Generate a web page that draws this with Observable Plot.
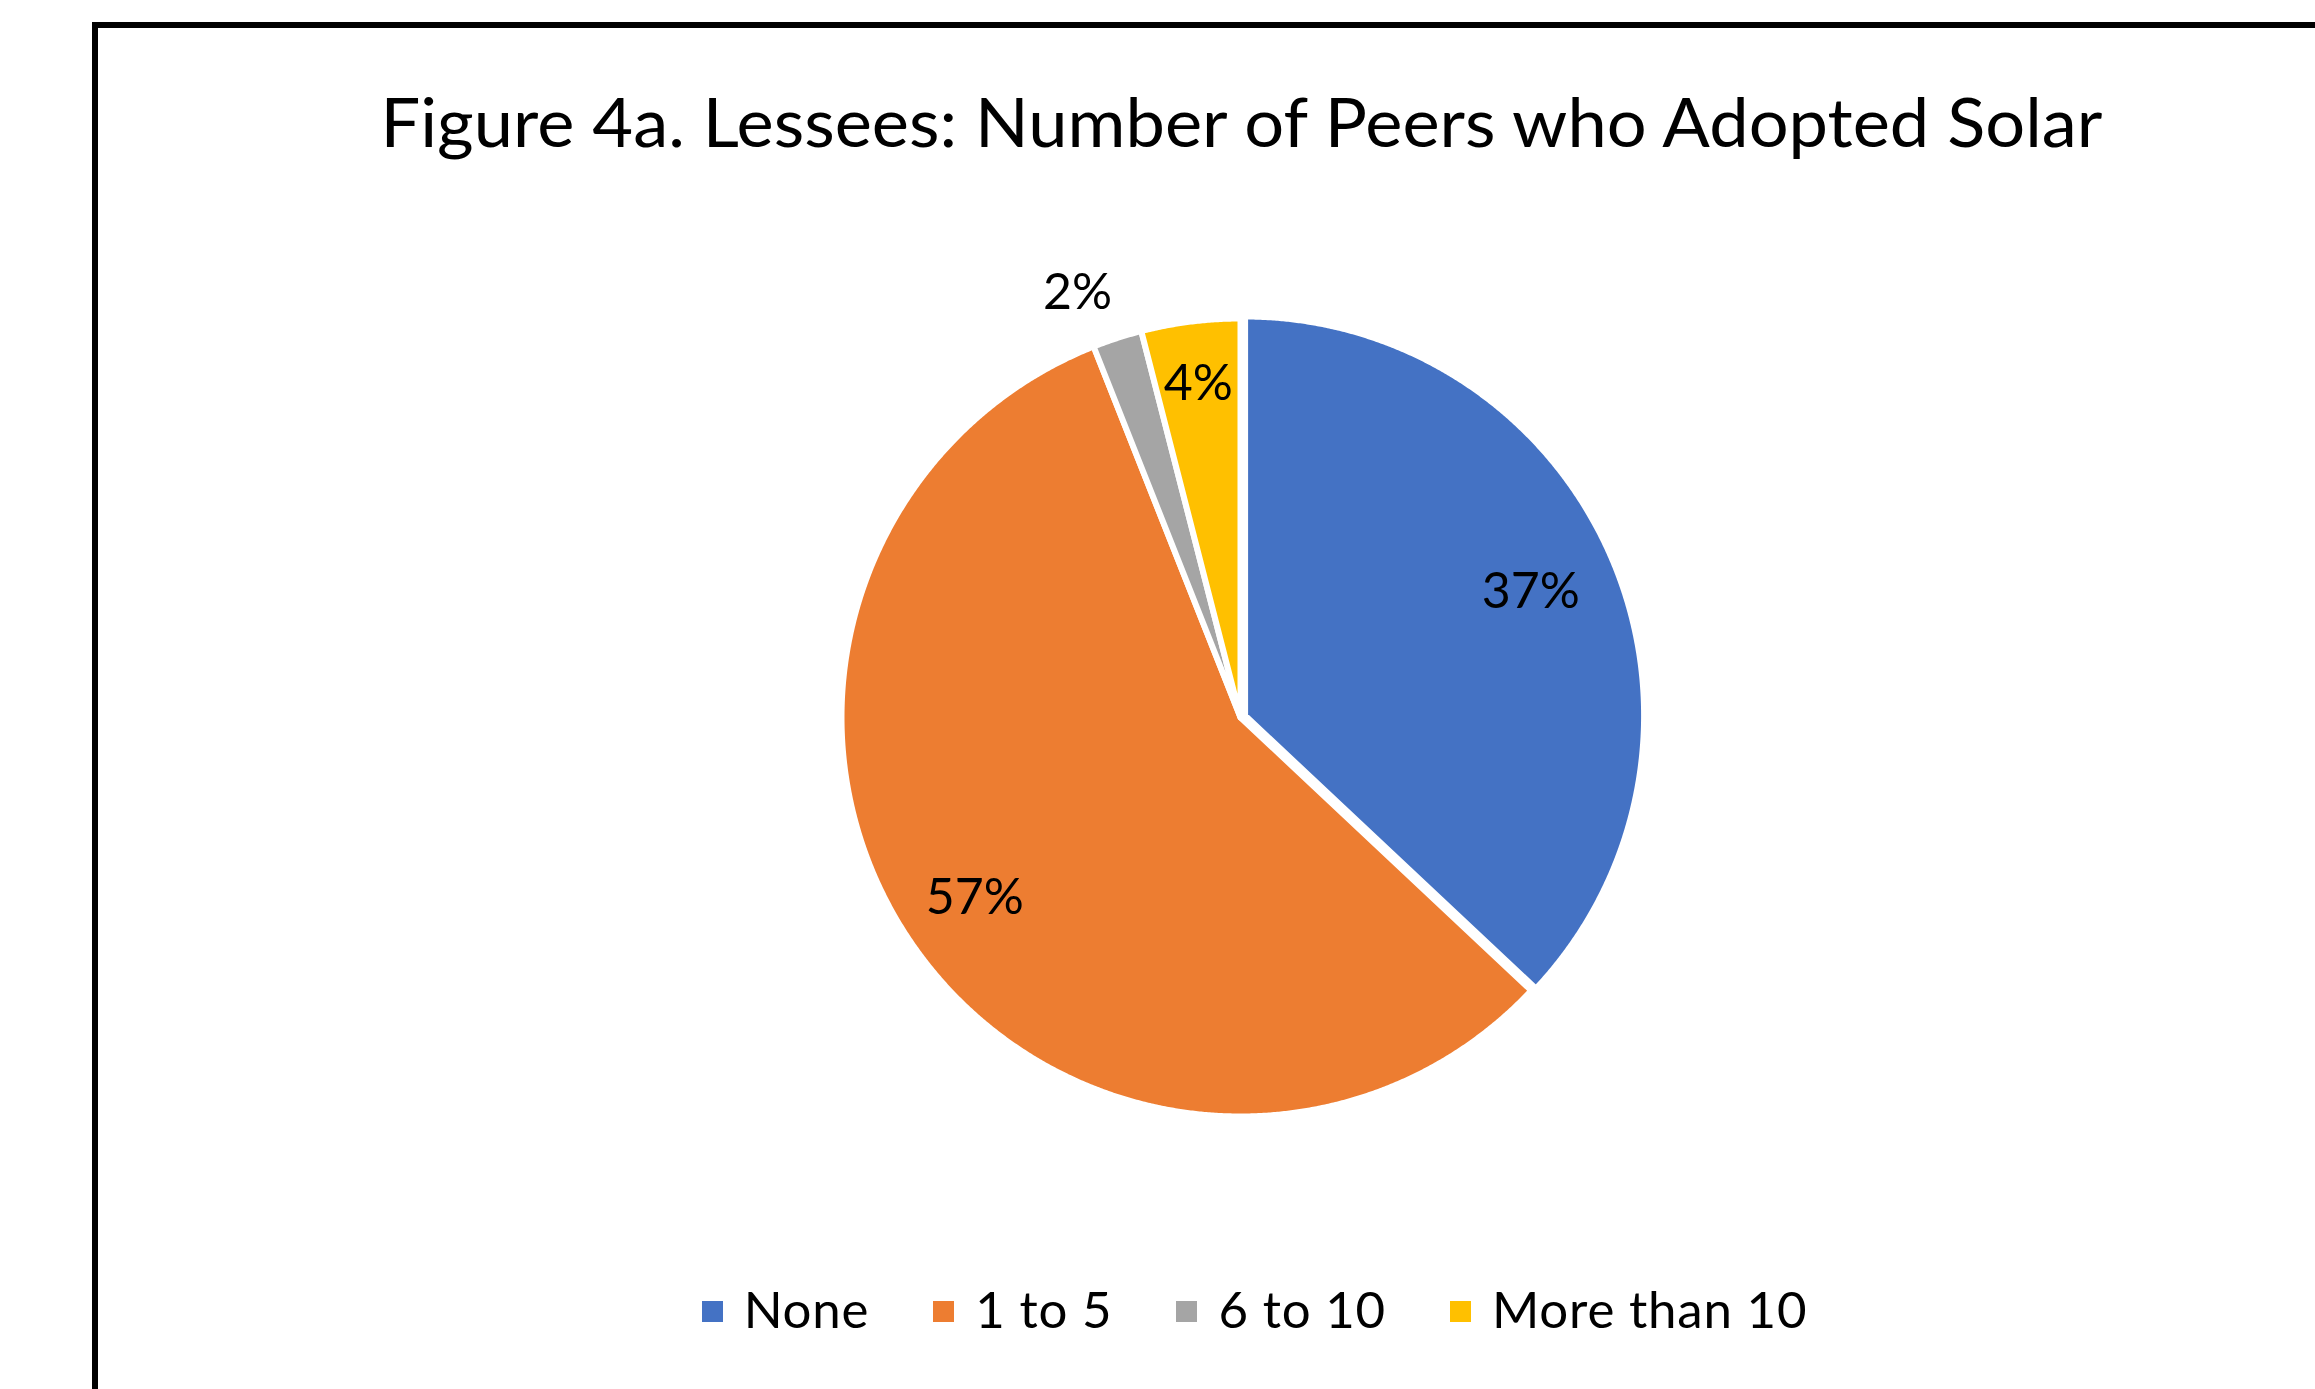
<!DOCTYPE html>
<html><head><meta charset="utf-8">
<script src="https://cdn.jsdelivr.net/npm/d3@7"></script>
<script src="https://cdn.jsdelivr.net/npm/@observablehq/plot@0.6"></script>
<style>
html,body{margin:0;padding:0;background:#fff;}
body{width:2315px;height:1389px;overflow:hidden;position:relative;font-family:Lato,"Open Sans",sans-serif;}
#box{position:absolute;left:92px;top:22px;width:2400px;height:1500px;border:6px solid #000;box-sizing:border-box;}
#chart{position:absolute;left:0;top:0;}
#legend{position:absolute;left:254.5px;width:2000px;top:1283px;display:flex;justify-content:center;font-size:51px;line-height:51px;color:#000;white-space:nowrap;letter-spacing:0.8px;}
.item{display:flex;align-items:flex-start;margin:0 32px;}
.sw{width:21px;height:21px;margin-top:17.7px;margin-right:21px;flex:none;}
</style></head><body>
<div id="box"></div><div id="chart"></div><div id="legend"></div>
<script>
const title = "Figure 4a. Lessees: Number of Peers who Adopted Solar";
const categories = ["None", "1 to 5", "6 to 10", "More than 10"];
const shares = [37, 57, 2, 4];
const labels = ["37%", "57%", "2%", "4%"];
const colors = ["#4472C4", "#ED7D31", "#A5A5A5", "#FFC000"];

// layout (pixels / unit-radius settings)
const W = 2315, H = 1389, cx = 1240, cy = 717, R = 399;
const explode = {"None": 5 / 399};
const labelRadius = {"None": 0.78, "1 to 5": 0.805, "6 to 10": 1.14, "More than 10": 0.843};
const labelNudge = {"6 to 10": -3 * Math.PI / 180};

const rows = categories.map((c, i) => ({cat: c, share: shares[i], label: labels[i]}));
const arcs = d3.pie().sort(null).value(d => d.share)(rows);
const pts = [], labelRows = [];
for (const a of arcs) {
  const cat = a.data.cat, mid = (a.startAngle + a.endAngle) / 2, e = explode[cat] || 0;
  const ox = e * Math.sin(mid), oy = -e * Math.cos(mid);
  pts.push({cat, x: ox, y: oy});
  const n = Math.max(2, Math.ceil((a.endAngle - a.startAngle) / (Math.PI / 720)));
  for (let k = 0; k <= n; k++) {
    const t = a.startAngle + (a.endAngle - a.startAngle) * k / n;
    pts.push({cat, x: ox + Math.sin(t), y: oy - Math.cos(t)});
  }
  const lr = labelRadius[cat], la = mid + (labelNudge[cat] || 0);
  labelRows.push({cat, label: a.data.label, x: ox + lr * Math.sin(la), y: oy - lr * Math.cos(la)});
}

const svg = Plot.plot({
  width: W, height: H, margin: 0,
  x: {domain: [-1, 1], range: [cx - R, cx + R], axis: null},
  y: {domain: [-1, 1], range: [cy - R, cy + R], axis: null},
  color: {domain: categories, range: colors},
  style: {background: "transparent", fontFamily: "Lato, 'Open Sans', sans-serif", overflow: "visible"},
  marks: [
    Plot.line(pts, {x: "x", y: "y", z: "cat", fill: "cat", stroke: "white", strokeWidth: 6, curve: "linear-closed"}),
    Plot.text(labelRows, {x: "x", y: "y", text: "label", fill: "black", fontSize: 50}),
    Plot.text([title], {frameAnchor: "top-left", dx: 1241, dy: 146.7, textAnchor: "middle", lineAnchor: "bottom", fontSize: 68, fill: "black"})
  ]
});
document.getElementById("chart").appendChild(svg);
d3.select(svg).selectAll("text").filter(function() { return this.textContent === title; })
  .attr("textLength", 1722).attr("lengthAdjust", "spacingAndGlyphs");

const lg = d3.select("#legend");
categories.forEach((c, i) => {
  const it = lg.append("div").attr("class", "item");
  it.append("div").attr("class", "sw").style("background", colors[i]);
  it.append("span").text(c);
});
</script>
</body></html>
